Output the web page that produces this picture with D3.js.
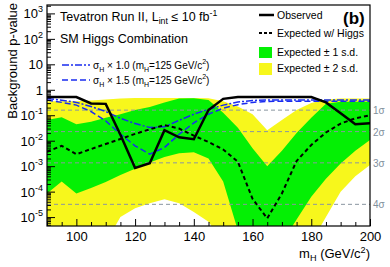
<!DOCTYPE html>
<html>
<head>
<meta charset="utf-8">
<script src="https://cdn.jsdelivr.net/npm/d3@7"></script>
<style>
  body { margin: 0; background: #fff; }
  svg { display: block; font-family: "Liberation Sans", Arial, Helvetica, sans-serif; }
</style>
</head>
<body>
<svg id="chart" width="390" height="267"></svg>
<script>
// higgs mass points (GeV/c^2)
var masses = [90, 95, 100, 105, 110, 115, 120, 125, 130, 135, 140, 145, 150,
              155, 160, 165, 170, 175, 180, 185, 190, 195, 200];

// observed background p-value
var observed = [0.52, 0.52, 0.52, 0.29, 0.28, 0.017, 8.5e-4, 1.3e-3, 0.026, 0.0136, 0.0114, 0.16, 0.44,
                0.52, 0.52, 0.52, 0.52, 0.52, 0.52, 0.32, 0.12, 0.044, 0.048];

// expected with SM higgs at each mass
var expHiggs = [3.7e-3, 6.3e-3, 2.95e-3, 4.7e-3, 7.4e-3, 0.0117, 0.0186, 0.028, 0.041, 0.030, 0.0158, 8.9e-3, 4.5e-3,
                1.5e-3, 5.2e-5, 8.9e-6, 8.5e-5, 1.6e-3, 6.8e-3, 0.021, 0.047, 0.076, 0.10];

// expected for a 125 GeV higgs, sigma x 1.0 and x 1.5
var sig10 = [0.46, 0.39, 0.32, 0.22, 0.14, 0.076, 0.047, 0.033, 0.035, 0.063, 0.11, 0.17, 0.25,
             0.33, 0.38, 0.40, 0.40, 0.40, 0.40, 0.40, 0.40, 0.40, 0.40];
var sig15 = [0.40, 0.32, 0.25, 0.14, 0.06, 0.018, 6.3e-3, 2.95e-3, 5.4e-3, 0.018, 0.05, 0.11, 0.19,
             0.26, 0.32, 0.35, 0.355, 0.355, 0.355, 0.355, 0.355, 0.355, 0.355];

// +-1 s.d. band
var band1Lo = [8.5e-5, 2.5e-4, 8.5e-5, 1.4e-4, 2.4e-4, 4.5e-4, 8e-4, 1.4e-3, 2.3e-3, 3.2e-3, 3.5e-3, 2e-3, 2.5e-4,
               3e-6, 1e-6, 1e-6, 1e-6, 8e-6, 6.3e-5, 3.2e-4, 1.26e-3, 4e-3, 0.0107];
var band1Hi = [0.065, 0.083, 0.044, 0.056, 0.079, 0.11, 0.16, 0.21, 0.32, 0.45, 0.47, 0.40, 0.126,
               0.032, 5e-3, 1e-3, 4e-3, 0.02, 0.079, 0.28, 0.34, 0.34, 0.34];

// +-2 s.d. band
var band2Lo = [1e-6, 1e-6, 1e-6, 1e-6, 1e-6, 1e-5, 2.2e-5, 3.5e-5, 5e-5, 3.5e-5, 1.6e-5, 6.6e-6, 1e-6,
               1e-6, 1e-6, 1e-6, 1e-6, 1e-6, 1e-6, 1e-5, 1e-4, 4e-4, 1.1e-3];
var band2Hi = [0.355, 0.355, 0.355, 0.38, 0.42, 0.45, 0.48, 0.48, 0.48, 0.48, 0.48, 0.47, 0.355,
               0.22, 0.11, 0.026, 0.065, 0.16, 0.30, 0.42, 0.45, 0.45, 0.45];

// one-sided significance levels
var sigmaNames = ["1\u03c3", "2\u03c3", "3\u03c3", "4\u03c3"];
var sigmaP = [0.1587, 0.02275, 0.00135, 3.17e-5];

var xTicks = [100, 120, 140, 160, 180, 200];
var yDecades = [-5, -4, -3, -2, -1, 0, 1, 2, 3];

// plot frame in pixels (note: "top" is reserved on window)
var frameL = 47, frameR = 370, frameT = 5, frameB = 226;

var svg = d3.select("#chart");

var x = d3.scaleLinear().domain([90, 200]).range([frameL, frameR]);
var y = d3.scaleLog().domain([Math.pow(10, -5.35), Math.pow(10, 3.33)]).range([frameB, frameT]);

svg.append("clipPath").attr("id", "plotclip")
  .append("rect")
    .attr("x", frameL).attr("y", frameT)
    .attr("width", frameR - frameL).attr("height", frameB - frameT);

var plot = svg.append("g").attr("clip-path", "url(#plotclip)");

var rows = masses.map(function(m, i) {
  return { m: m, obs: observed[i], exp: expHiggs[i], s10: sig10[i], s15: sig15[i],
           g0: band1Lo[i], g1: band1Hi[i], y0: band2Lo[i], y1: band2Hi[i] };
});

var area = function(lo, hi) {
  return d3.area()
    .x(function(d) { return x(d.m); })
    .y0(function(d) { return y(d[lo]); })
    .y1(function(d) { return y(d[hi]); });
};
var line = function(key) {
  return d3.line()
    .x(function(d) { return x(d.m); })
    .y(function(d) { return y(d[key]); });
};

plot.append("path").datum(rows).attr("d", area("y0", "y1")).attr("fill", "#f7f71c");
plot.append("path").datum(rows).attr("d", area("g0", "g1")).attr("fill", "#04f004");

// significance reference lines
plot.selectAll("line.sig")
  .data(sigmaP)
  .enter()
  .append("line")
    .attr("x1", frameL).attr("x2", frameR)
    .attr("y1", function(p) { return y(p); })
    .attr("y2", function(p) { return y(p); })
    .attr("stroke", "#8a96a0")
    .attr("stroke-width", 1)
    .attr("stroke-dasharray", "4,3");

plot.append("path").datum(rows).attr("d", line("s10"))
  .attr("fill", "none").attr("stroke", "#1a2cf0").attr("stroke-width", 1.5)
  .attr("stroke-dasharray", "7,2,2,2");
plot.append("path").datum(rows).attr("d", line("s15"))
  .attr("fill", "none").attr("stroke", "#1a2cf0").attr("stroke-width", 1.5)
  .attr("stroke-dasharray", "6,3");
plot.append("path").datum(rows).attr("d", line("exp"))
  .attr("fill", "none").attr("stroke", "#000").attr("stroke-width", 2)
  .attr("stroke-dasharray", "4,3");
plot.append("path").datum(rows).attr("d", line("obs"))
  .attr("fill", "none").attr("stroke", "#000").attr("stroke-width", 2.5);

// frame
svg.append("rect")
  .attr("x", frameL).attr("y", frameT)
  .attr("width", frameR - frameL).attr("height", frameB - frameT)
  .attr("fill", "none").attr("stroke", "#000").attr("stroke-width", 1.2);

// x axis, ticks pointing inward
var xMinor = d3.range(90, 201, 5).filter(function(v) { return v % 20 !== 0; });
svg.append("g")
  .attr("transform", "translate(0," + frameB + ")")
  .call(d3.axisBottom(x).tickValues(xMinor).tickSizeInner(-4).tickSizeOuter(0).tickFormat(""))
  .call(function(g) { g.select(".domain").remove(); });
svg.append("g")
  .attr("transform", "translate(0," + frameB + ")")
  .call(d3.axisBottom(x).tickValues(xTicks).tickSizeInner(-7).tickSizeOuter(0).tickPadding(6))
  .call(function(g) {
    g.select(".domain").remove();
    g.selectAll("text").attr("font-size", 13).attr("font-family", "Liberation Sans, Arial, sans-serif").attr("fill", "#000");
  });

// y axis, log, ticks inward
var yMajor = yDecades.map(function(e) { return Math.pow(10, e); });
var yMinor = [];
yDecades.forEach(function(e) {
  for (var k = 2; k < 10; k++) {
    var v = k * Math.pow(10, e);
    if (v < y.domain()[1]) yMinor.push(v);
  }
});
yMinor.push(5e-6, 6e-6, 7e-6, 8e-6, 9e-6);
svg.append("g")
  .attr("transform", "translate(" + frameL + ",0)")
  .call(d3.axisLeft(y).tickValues(yMinor).tickSizeInner(-4).tickSizeOuter(0).tickFormat(""))
  .call(function(g) { g.select(".domain").remove(); });
svg.append("g")
  .attr("transform", "translate(" + frameL + ",0)")
  .call(d3.axisLeft(y).tickValues(yMajor).tickSizeInner(-8).tickSizeOuter(0).tickFormat(""))
  .call(function(g) { g.select(".domain").remove(); });

var yLabels = svg.append("g").attr("font-size", 13).attr("text-anchor", "end");
yDecades.forEach(function(e) {
  var t = yLabels.append("text")
    .attr("x", 43)
    .attr("y", y(Math.pow(10, e)) + 5);
  if (e === 0) { t.text("1"); return; }
  if (e === 1) { t.text("10"); return; }
  t.append("tspan").text("10");
  t.append("tspan").attr("dy", -6).attr("font-size", 9).text(e);
});

// rich text helper: parts of [string, "sub"|"sup"|undefined]
var richText = function(g, px, py, parts, size) {
  var t = g.append("text").attr("x", px).attr("y", py).attr("font-size", size);
  var shift = 0;
  parts.forEach(function(p) {
    var target = p[1] === "sub" ? 3 : (p[1] === "sup" ? -5 : 0);
    var ts = t.append("tspan").attr("dy", target - shift).text(p[0]);
    if (p[1]) ts.attr("font-size", size * 0.7);
    shift = target;
  });
  return t;
};

// axis titles
svg.append("text")
  .attr("transform", "translate(17,3) rotate(-90)")
  .attr("text-anchor", "end")
  .attr("font-size", 13)
  .text("Background p-value");

richText(svg, 0, 0, [["m"], ["H", "sub"], [" (GeV/c"], ["2", "sup"], [")"]], 13)
  .attr("transform", "translate(370,258)")
  .attr("text-anchor", "end");

// sigma labels on the right
svg.selectAll("text.siglab")
  .data(sigmaP)
  .enter()
  .append("text")
    .attr("x", 373)
    .attr("y", function(p) { return y(p) + 4; })
    .attr("font-size", 10)
    .attr("fill", "#7f8f9c")
    .text(function(p, i) { return sigmaNames[i]; });

// left legend
var leg = svg.append("g");
richText(leg, 60, 21, [["Tevatron Run II, L"], ["int", "sub"], [" \u2264 10 fb"], ["-1", "sup"]], 12.5);
leg.append("text").attr("x", 60).attr("y", 43).attr("font-size", 12.5).text("SM Higgs Combination");

leg.append("line").attr("x1", 62).attr("x2", 90).attr("y1", 65).attr("y2", 65)
  .attr("stroke", "#1a2cf0").attr("stroke-width", 1.5).attr("stroke-dasharray", "7,2,2,2");
richText(leg, 93, 69, [["\u03c3"], ["H", "sub"], [" \u00d7 1.0 (m"], ["H", "sub"], ["=125 GeV/c"], ["2", "sup"], [")"]], 10);
leg.append("line").attr("x1", 62).attr("x2", 90).attr("y1", 80).attr("y2", 80)
  .attr("stroke", "#1a2cf0").attr("stroke-width", 1.5).attr("stroke-dasharray", "6,3");
richText(leg, 93, 84, [["\u03c3"], ["H", "sub"], [" \u00d7 1.5 (m"], ["H", "sub"], ["=125 GeV/c"], ["2", "sup"], [")"]], 10);

// right legend
var leg2 = svg.append("g").attr("font-size", 10.5);
leg2.append("line").attr("x1", 259).attr("x2", 274).attr("y1", 15).attr("y2", 15)
  .attr("stroke", "#000").attr("stroke-width", 2.5);
leg2.append("text").attr("x", 277).attr("y", 19).text("Observed");
leg2.append("line").attr("x1", 259).attr("x2", 274).attr("y1", 33).attr("y2", 33)
  .attr("stroke", "#000").attr("stroke-width", 2).attr("stroke-dasharray", "3,2");
leg2.append("text").attr("x", 277).attr("y", 37).text("Expected w/ Higgs");
leg2.append("rect").attr("x", 259).attr("y", 47).attr("width", 13).attr("height", 11).attr("fill", "#04f004");
leg2.append("text").attr("x", 277).attr("y", 56).text("Expected \u00b1 1 s.d.");
leg2.append("rect").attr("x", 259).attr("y", 63).attr("width", 13).attr("height", 12).attr("fill", "#f7f71c");
leg2.append("text").attr("x", 277).attr("y", 72).text("Expected \u00b1 2 s.d.");

svg.append("text")
  .attr("x", 343).attr("y", 24)
  .attr("font-size", 17).attr("font-weight", "bold")
  .text("(b)");
</script>
</body>
</html>
